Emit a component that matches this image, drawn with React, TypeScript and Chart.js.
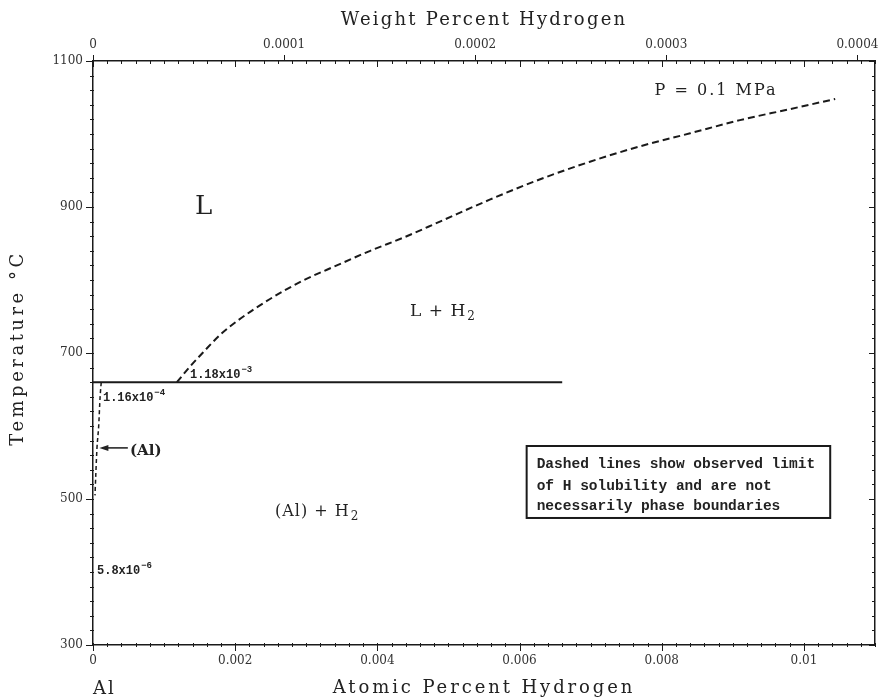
import React, { useEffect, useRef } from 'react';
import { Chart, registerables } from 'chart.js';

Chart.register(...registerables);

// ---- axis ranges & tick steps ----
const X_MIN = 0;
const X_MAX = 0.011; // atomic percent H
const T_MIN = 300;
const T_MAX = 1100;
const WT_PER_AT = 0.0372; // weight% per atomic% (top axis)

const atTickStep = 0.0002;
const atLabelStep = 0.002;
const wtLabelStep = 0.0001;
const tTickStep = 20;
const tLabelStep = 200;

// ---- data ----
// Liquid solubility limit (dashed)
const liquidusX = [0.00118, 0.00136, 0.00155, 0.00179, 0.00203, 0.00249, 0.00295, 0.00343, 0.0039, 0.00439, 0.00488, 0.00558, 0.00629, 0.00699, 0.00769, 0.0084, 0.0091, 0.0098, 0.01044];
const liquidusT = [660, 681, 701, 725, 744, 774, 799, 820, 840, 859, 880, 910, 938, 962, 983, 1001, 1019, 1034, 1048];
// Solid (Al) solubility limit (dashed)
const solidusX = [0.000116, 0.0001, 0.00008, 0.000056, 0.00004, 0.000028];
const solidusT = [660, 640, 600, 570, 535, 505];
// Horizontal isotherm at Al melting point
const isothermX = [0, 0.0066];
const isothermT = [660, 660];

const LINE = '#1a1a1a';
const TEXT = '#222';

const pts = (xs: number[], ys: number[]) => xs.map((x, i) => ({ x, y: ys[i] }));
const isMult = (v: number, step: number) => Math.abs(v / step - Math.round(v / step)) < 1e-6;
const fmt = (v: number, d: number) => (Math.abs(v) < 1e-12 ? '0' : String(parseFloat(v.toFixed(d))));

const fitTo = (prop: 'width' | 'height', size: number) => (s: any) => {
  s[prop] = size;
  s.paddingLeft = 0;
  s.paddingRight = 0;
  s.paddingTop = 0;
  s.paddingBottom = 0;
};

const decorPlugin = {
  id: 'decor',
  afterDraw(chart: any) {
    const { ctx, chartArea: ca, scales } = chart;
    const xs = scales.x;
    const x2 = scales.x2;
    const ys = scales.y;
    const P = (x: number, t: number) => [xs.getPixelForValue(x), ys.getPixelForValue(t)];
    ctx.save();
    ctx.strokeStyle = LINE;
    ctx.lineWidth = 1;
    const seg = (a: number, b: number, c: number, d: number) => {
      ctx.beginPath();
      ctx.moveTo(a, b);
      ctx.lineTo(c, d);
      ctx.stroke();
    };
    // bottom & top (atomic %) ticks
    for (const t of xs.ticks) {
      const px = Math.round(xs.getPixelForValue(t.value)) + 0.5;
      const major = isMult(t.value, atLabelStep);
      seg(px, ca.bottom - 2, px, ca.bottom + (major ? 6 : 2));
      seg(px, ca.top - 1, px, ca.top + (major ? 6 : 3));
    }
    // top weight % ticks
    for (const t of x2.ticks) {
      if (!isMult(t.value, wtLabelStep)) continue;
      const px = Math.round(x2.getPixelForValue(t.value)) + 0.5;
      seg(px, ca.top - 6, px, ca.top);
    }
    // left & right temperature ticks
    for (const t of ys.ticks) {
      const py = Math.round(ys.getPixelForValue(t.value)) + 0.5;
      const major = isMult(t.value - T_MIN, tLabelStep);
      seg(ca.left - (major ? 7 : 3), py, ca.left + 1, py);
      seg(ca.right - (major ? 6 : 3), py, ca.right, py);
    }

    ctx.fillStyle = TEXT;
    ctx.textBaseline = 'alphabetic';
    const txt = (s: string, x: number, y: number, font: string, align: CanvasTextAlign = 'left', spacing = 0) => {
      ctx.font = font;
      ctx.textAlign = align;
      (ctx as any).letterSpacing = spacing + 'px';
      ctx.fillText(s, x, y);
      const w = ctx.measureText(s).width;
      (ctx as any).letterSpacing = '0px';
      return w;
    };
    const withScript = (main: string, script: string, x: number, y: number, font: string, sfont: string, dy: number, spacing = 0) => {
      const w = txt(main, x, y, font, 'left', spacing);
      txt(script, x + w + 1, y + dy, sfont, 'left', 0);
    };

    // axis titles
    const titleFont = '18px "DejaVu Serif"';
    txt('Weight Percent Hydrogen', (ca.left + ca.right) / 2, 25, titleFont, 'center', 2.2);
    txt('Atomic Percent Hydrogen', (ca.left + ca.right) / 2, 693, titleFont, 'center', 2.9);
    txt('Al', ca.left, 694, titleFont, 'left', 2);
    ctx.save();
    ctx.translate(23, (ca.top + ca.bottom) / 2 - 5);
    ctx.rotate(-Math.PI / 2);
    txt('Temperature \u00B0C', 0, 0, titleFont, 'center', 3.5);
    ctx.restore();

    // phase labels
    let [lx, ly] = P(0.001435, 891);
    txt('L', lx, ly, '26px "DejaVu Serif"');
    [lx, ly] = P(0.00446, 751);
    withScript('L + H', '2', lx, ly, '17px "DejaVu Serif"', '12px "DejaVu Serif"', 4, 1);
    [lx, ly] = P(0.00256, 477);
    withScript('(Al) + H', '2', lx, ly, '16px "DejaVu Serif"', '12px "DejaVu Serif"', 4, 1);
    [lx, ly] = P(0.0079, 1053);
    txt('P = 0.1 MPa', lx, ly, '16px "DejaVu Serif"', 'left', 2);
    [lx, ly] = P(0.00052, 560);
    txt('(Al)', lx, ly, 'bold 15px "DejaVu Serif"');

    // composition labels
    const mono = 'bold 12px "Liberation Mono"';
    const sup = 'bold 9px "Liberation Mono"';
    [lx, ly] = P(0.001364, 666);
    withScript('1.18x10', '\u22123', lx, ly, mono, sup, -6);
    [lx, ly] = P(0.00014, 634);
    withScript('1.16x10', '\u22124', lx, ly, mono, sup, -6);
    [lx, ly] = P(0.000056, 397);
    withScript('5.8x10', '\u22126', lx, ly, mono, sup, -6);

    // arrow to (Al)
    const [ax0, ay] = P(0.00009, 570);
    const [ax1] = P(0.00049, 570);
    ctx.lineWidth = 1.5;
    seg(ax0 + 6, ay, ax1, ay);
    ctx.beginPath();
    ctx.moveTo(ax0, ay);
    ctx.lineTo(ax0 + 9, ay - 3);
    ctx.lineTo(ax0 + 9, ay + 3);
    ctx.closePath();
    ctx.fill();

    // note box
    const [bx0, by0] = P(0.0061, 572.6);
    const [bx1, by1] = P(0.01037, 474);
    ctx.lineWidth = 2;
    ctx.strokeRect(bx0, by0, bx1 - bx0, by1 - by0);
    const boxFont = 'bold 14.5px "Liberation Mono"';
    txt('Dashed lines show observed limit', bx0 + 10, by0 + 22, boxFont);
    txt('of H solubility and are not', bx0 + 10, by0 + 44, boxFont);
    txt('necessarily phase boundaries', bx0 + 10, by0 + 64, boxFont);
    ctx.restore();
  },
};

export default function App() {
  const ref = useRef<HTMLCanvasElement>(null);
  useEffect(() => {
    const canvas = ref.current!;
    const tickFont = { family: 'DejaVu Serif', size: 12 };
    const chart = new Chart(canvas, {
      type: 'line',
      data: {
        datasets: [
          {
            label: 'Liquid solubility limit',
            data: pts(liquidusX, liquidusT),
            borderColor: LINE,
            borderWidth: 2,
            borderDash: [7, 4],
            pointRadius: 0,
            cubicInterpolationMode: 'monotone',
            fill: false,
          },
          {
            label: '(Al) solubility limit',
            data: pts(solidusX, solidusT),
            borderColor: LINE,
            borderWidth: 1.5,
            borderDash: [4, 3],
            pointRadius: 0,
            cubicInterpolationMode: 'monotone',
            fill: false,
          },
          {
            label: 'Isotherm',
            data: pts(isothermX, isothermT),
            borderColor: LINE,
            borderWidth: 2,
            pointRadius: 0,
            fill: false,
          },
        ],
      },
      options: {
        responsive: false,
        devicePixelRatio: 1,
        animation: false,
        layout: { padding: 0 },
        plugins: { legend: { display: false }, tooltip: { enabled: false } },
        scales: {
          x: {
            type: 'linear',
            position: 'bottom',
            min: X_MIN,
            max: X_MAX,
            afterFit: fitTo('height', 53),
            grid: { display: false, drawTicks: false },
            border: { display: true, color: LINE, width: 1.5 },
            ticks: {
              stepSize: atTickStep,
              autoSkip: false,
              includeBounds: false,
              maxRotation: 0,
              padding: 9,
              color: '#333',
              font: tickFont,
              callback: (v: any) => (isMult(Number(v), atLabelStep) ? fmt(Number(v), 4) : ''),
            },
          },
          x2: {
            type: 'linear',
            position: 'top',
            min: X_MIN * WT_PER_AT,
            max: X_MAX * WT_PER_AT,
            afterFit: fitTo('height', 61),
            grid: { display: false, drawTicks: false },
            border: { display: true, color: LINE, width: 1.5 },
            ticks: {
              stepSize: wtLabelStep,
              autoSkip: false,
              includeBounds: false,
              maxRotation: 0,
              padding: 9,
              color: '#333',
              font: tickFont,
              callback: (v: any) => (isMult(Number(v), wtLabelStep) ? fmt(Number(v), 5) : ''),
            },
          },
          y: {
            type: 'linear',
            position: 'left',
            min: T_MIN,
            max: T_MAX,
            afterFit: fitTo('width', 93),
            grid: { display: false, drawTicks: false },
            border: { display: true, color: LINE, width: 1.5 },
            ticks: {
              stepSize: tTickStep,
              autoSkip: false,
              includeBounds: false,
              padding: 10,
              color: '#333',
              font: tickFont,
              callback: (v: any) => (isMult(Number(v) - T_MIN, tLabelStep) ? String(v) : ''),
            },
          },
          y2: {
            type: 'linear',
            position: 'right',
            min: T_MIN,
            max: T_MAX,
            afterFit: fitTo('width', 4),
            grid: { display: false, drawTicks: false },
            border: { display: true, color: LINE, width: 1.5 },
            ticks: { display: false },
          },
        },
      },
      plugins: [decorPlugin],
    } as any);
    return () => chart.destroy();
  }, []);
  return (
    <div style={{ position: 'fixed', left: 0, top: 0, width: 879, height: 698, background: '#fff' }}>
      <canvas ref={ref} width={879} height={698} style={{ display: 'block', width: 879, height: 698 }} />
    </div>
  );
}
